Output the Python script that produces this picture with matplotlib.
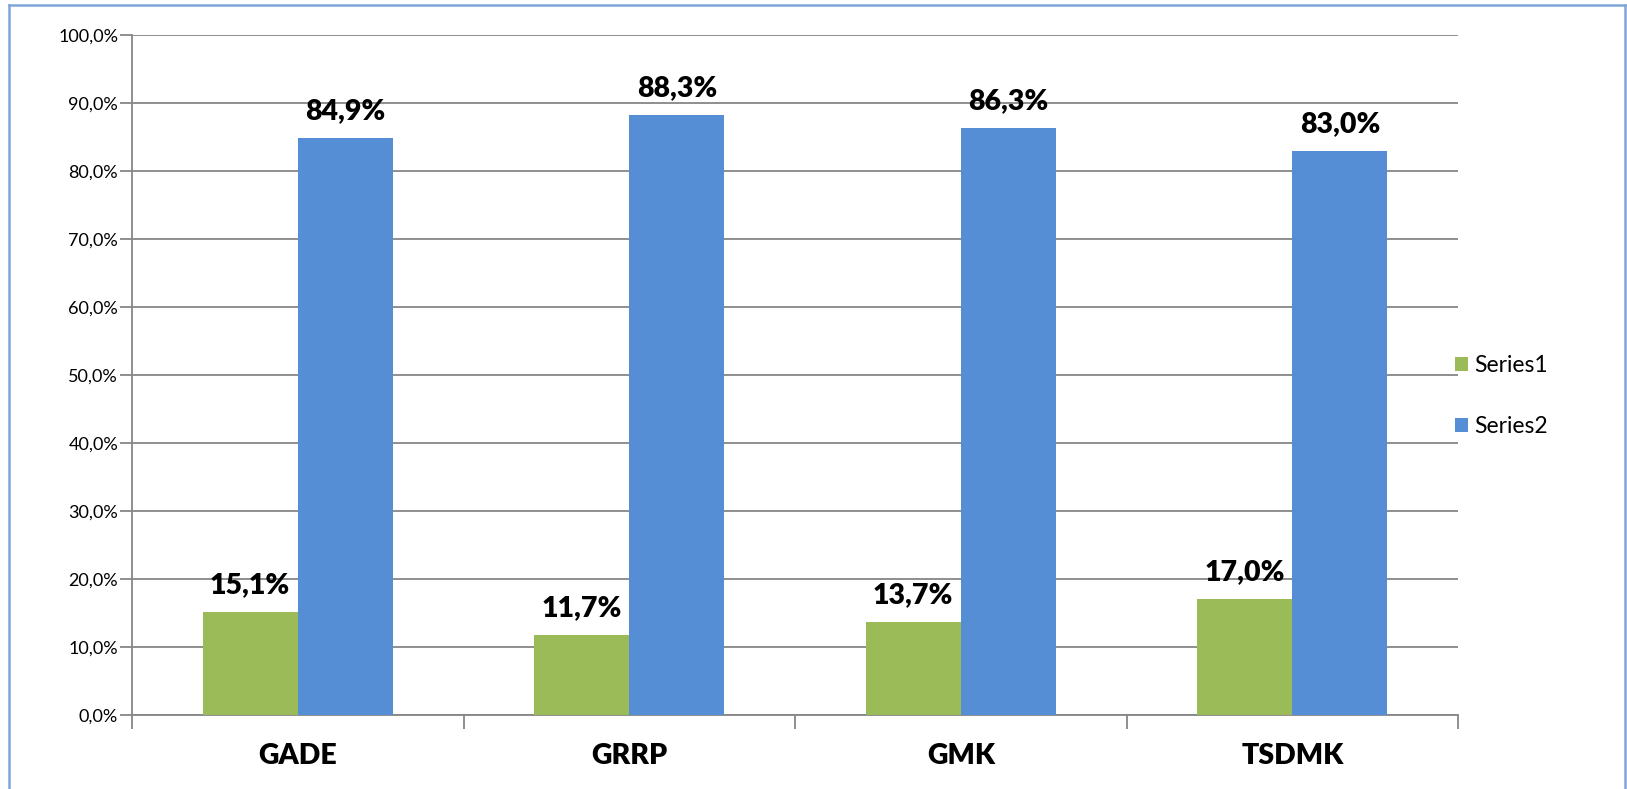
import matplotlib.pyplot as plt
import numpy as np
from matplotlib.lines import Line2D

# Datos del grafico
categorias = ['GADE', 'GRRP', 'GMK', 'TSDMK']
series1 = [15.1, 11.7, 13.7, 17.0]
series2 = [84.9, 88.3, 86.3, 83.0]
nombres = ['Series1', 'Series2']

verde = '#9BBB59'
azul = '#558ED5'
gris = '#868686'

plt.rcParams['font.family'] = ['Lato', 'DejaVu Sans']

fig = plt.figure(figsize=(16.27, 7.89), dpi=100)
W, H = 1627, 789
ax = fig.add_axes([132 / W, 1 - 715 / H, (1458 - 132) / W, (715 - 35) / H])

x = np.arange(len(categorias))
ancho = 0.287
b1 = ax.bar(x - ancho / 2, series1, ancho, color=verde, label=nombres[0], zorder=3)
b2 = ax.bar(x + ancho / 2, series2, ancho, color=azul, label=nombres[1], zorder=3)

def fmt(v):
    return f'{v:.1f}%'.replace('.', ',')

for barras, vals in ((b1, series1), (b2, series2)):
    for b, v in zip(barras, vals):
        ax.annotate(fmt(v), (b.get_x() + b.get_width() / 2, v), xytext=(0, 10),
                    textcoords='offset points', ha='center', va='bottom',
                    fontsize=20.5, fontweight='heavy')

ax.set_xlim(-0.5, len(categorias) - 0.5)
ax.set_ylim(0, 100)
ax.set_yticks(np.arange(0, 101, 10))
ax.set_yticklabels([fmt(v) for v in np.arange(0, 101, 10)], fontsize=13)
ax.grid(axis='y', color=gris, linewidth=1.3, zorder=0)

ax.set_xticks(x)
ax.set_xticklabels(categorias, fontsize=20.5, fontweight='heavy')
ax.tick_params(axis='x', length=0, pad=20)
ax.set_xticks(np.arange(-0.5, len(categorias)), minor=True)
ax.tick_params(axis='x', which='minor', length=10, color=gris, width=1.3)
ax.tick_params(axis='y', length=9, color=gris, width=1.3, pad=1)

for lado in ('top', 'right'):
    ax.spines[lado].set_visible(False)
ax.spines['left'].set_color(gris)
ax.spines['bottom'].set_color(gris)
ax.spines['left'].set_linewidth(1.3)
ax.spines['bottom'].set_linewidth(1.3)

leg = fig.legend(handles=[b1, b2], loc='center left', bbox_to_anchor=(1434 / W, 1 - 396 / H),
                 frameon=False, fontsize=16.5, handlelength=0.6, handleheight=0.6,
                 handletextpad=0.25, labelspacing=1.75)

# Marco exterior
marco = dict(color='#7FA6D8', linewidth=1.8, transform=fig.transFigure, clip_on=False)
fig.add_artist(Line2D([9 / W, 1625 / W], [1 - 5 / H, 1 - 5 / H], **marco))
fig.add_artist(Line2D([9 / W, 9 / W], [1 - 5 / H, 0], **marco))
fig.add_artist(Line2D([1625 / W, 1625 / W], [1 - 5 / H, 0], **marco))

fig.savefig('out.png', dpi=100)
